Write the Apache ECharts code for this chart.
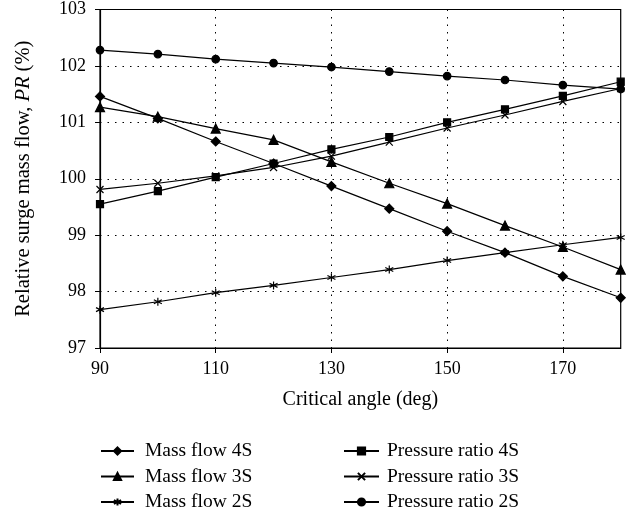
<!DOCTYPE html>
<html>
<head>
<meta charset="utf-8">
<title>Critical angle</title>
<script src="https://cdn.jsdelivr.net/npm/echarts@6/dist/echarts.min.js"></script>
<style>
html, body { margin: 0; padding: 0; background: #fff; }
#main { width: 635px; height: 516px; }
</style>
</head>
<body>
<div id="main"></div>
<script>
// 临界角 (deg)
var angles = [90, 100, 110, 120, 130, 140, 150, 160, 170, 180];
// 质量流量
var massFlow4S = [101.46, 101.07, 100.66, 100.27, 99.87, 99.47, 99.07, 98.69, 98.27, 97.89];
var massFlow3S = [101.27, 101.10, 100.89, 100.69, 100.30, 99.92, 99.56, 99.17, 98.79, 98.39];
var massFlow2S = [97.68, 97.82, 97.98, 98.11, 98.25, 98.39, 98.55, 98.69, 98.83, 98.96];
// 压比
var pressure4S = [99.55, 99.78, 100.03, 100.27, 100.52, 100.74, 101.00, 101.23, 101.47, 101.72];
var pressure3S = [99.81, 99.92, 100.05, 100.20, 100.40, 100.65, 100.90, 101.13, 101.37, 101.60];
var pressure2S = [102.28, 102.21, 102.12, 102.05, 101.98, 101.90, 101.82, 101.75, 101.66, 101.59];
var xTicks = [90, 110, 130, 150, 170];

var fontName = 'Liberation Serif';
var crossPath = 'path://M0,0L10,10M10,0L0,10';
var starPath = 'path://M5,0L5,10M0,2.5L10,7.5M0,7.5L10,2.5';

function pairs(ys) {
	var out = [];
	for (var i = 0; i < angles.length; i++) {
		out.push([angles[i], ys[i]]);
	}
	return out;
}

function makeSeries(name, ys, symbol, size) {
	return {
		name: name,
		type: 'line',
		data: pairs(ys),
		symbol: symbol,
		symbolSize: size,
		showAllSymbol: true,
		lineStyle: { color: '#000', width: 1.2 },
		itemStyle: { color: '#000', borderColor: '#000', borderWidth: 1.2 },
		emphasis: { disabled: true },
		z: 3
	};
}

// 图例 (两列)
function makeLegend(left, width, padLeft, names) {
	return {
		orient: 'vertical', left: left, top: 436, height: 120,
		itemWidth: width, itemHeight: 9, itemGap: 5.5,
		textStyle: { fontFamily: fontName, fontSize: 19.5, color: '#000', padding: [0, 0, 0, padLeft] },
		data: names
	};
}

var option = {
	animation: false,
	backgroundColor: '#fff',
	grid: {
		left: 100, right: 14.3, top: 9.5, bottom: 168,
		show: true, borderColor: '#000', borderWidth: 1.2
	},
	legend: [
		makeLegend(95, 33, 6, ['Mass flow 4S', 'Mass flow 3S', 'Mass flow 2S']),
		makeLegend(338, 35, 3, ['Pressure ratio 4S', 'Pressure ratio 3S', 'Pressure ratio 2S'])
	],
	xAxis: {
		type: 'value', min: 90, max: 180, interval: 20,
		name: 'Critical angle (deg)', nameLocation: 'middle', nameGap: 42,
		nameTextStyle: { fontFamily: fontName, fontSize: 20, color: '#000' },
		axisLine: { lineStyle: { color: '#000', width: 1.2 } },
		axisTick: { length: 5, customValues: xTicks, lineStyle: { color: '#000' } },
		axisLabel: { customValues: xTicks, margin: 12, fontFamily: fontName, fontSize: 18, color: '#000' },
		splitLine: { lineStyle: { color: '#000', width: 1, type: [1.5, 6] } }
	},
	yAxis: {
		type: 'value', min: 97, max: 103, interval: 1,
		name: 'Relative surge mass flow, {i|PR} (%)', nameLocation: 'middle', nameGap: 66, nameRotate: 90,
		nameTextStyle: {
			fontFamily: fontName, fontSize: 20.5, color: '#000',
			rich: { i: { fontFamily: fontName, fontSize: 20.5, fontStyle: 'italic', color: '#000' } }
		},
		axisLine: { show: true, lineStyle: { color: '#000', width: 1.2 } },
		axisTick: { show: true, length: 5, lineStyle: { color: '#000' } },
		axisLabel: { margin: 14, fontFamily: fontName, fontSize: 18, color: '#000' },
		splitLine: { lineStyle: { color: '#000', width: 1, type: [1.5, 6] } }
	},
	series: [
		makeSeries('Mass flow 4S', massFlow4S, 'diamond', 9),
		makeSeries('Mass flow 3S', massFlow3S, 'triangle', 9),
		makeSeries('Mass flow 2S', massFlow2S, starPath, 8),
		makeSeries('Pressure ratio 4S', pressure4S, 'rect', 7),
		makeSeries('Pressure ratio 3S', pressure3S, crossPath, 7),
		makeSeries('Pressure ratio 2S', pressure2S, 'circle', 7.5)
	]
};

var chart = echarts.init(document.getElementById('main'));
chart.setOption(option);
</script>
</body>
</html>
